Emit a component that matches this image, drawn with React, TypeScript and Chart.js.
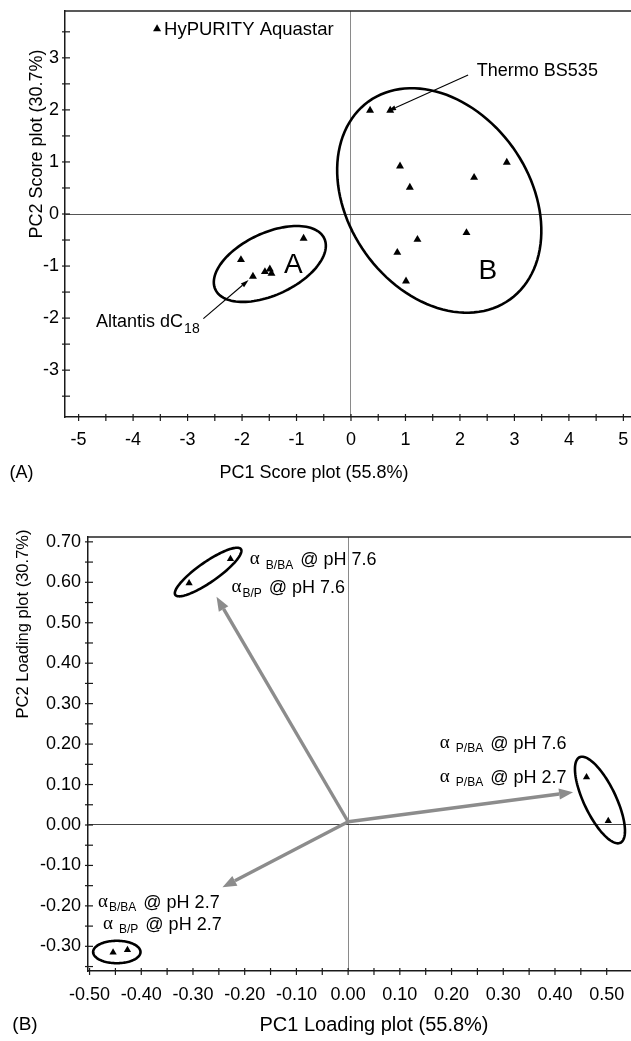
import React, { useEffect, useRef } from 'react';
import { Chart, registerables } from 'chart.js';
Chart.register(...registerables);

const SANS = '"Liberation Sans", Arial, sans-serif';
const SERIF = '"Liberation Serif", "Times New Roman", serif';

// ---------- (A) score plot data ----------
const scoreSeriesLabel = 'HyPURITY Aquastar';
const scorePC1 = [-0.87, -2.02, -1.80, -1.58, -1.49, -1.46, 0.35, 0.72, 0.90, 1.08, 2.26, 2.86, 1.22, 2.12, 0.85, 1.01];
const scorePC2 = [-0.47, -0.88, -1.20, -1.11, -1.06, -1.14, 1.99, 1.99, 0.92, 0.51, 0.70, 0.99, -0.49, -0.36, -0.74, -1.29];
const scoreXMajor = [-5, -4, -3, -2, -1, 0, 1, 2, 3, 4, 5];
const scoreYMajor = [-3, -2, -1, 0, 1, 2, 3];
const scoreRangeX = [-5.25, 5.14];
const scoreRangeY = [-3.9, 3.9];
// ellipses: centre + two half-axis vectors (data units)
const scoreEllipses = [
  { cx: -1.49, cy: -0.96, ux: 1.0, uy: 0.49, vx: 0.24, vy: -0.54 },
  { cx: 1.62, cy: 0.26, ux: 1.30, uy: -1.90, vx: 1.35, vy: 1.02 },
];
const scoreGroupLabels = [
  { text: 'A', x: -1.06, y: -0.98 },
  { text: 'B', x: 2.51, y: -1.11 },
];
const scoreCallouts = [
  { text: 'Thermo BS535', sub: '', tx: 2.31, ty: 2.74, x1: 2.15, y1: 2.67, x2: 0.68, y2: 1.98 },
  { text: 'Altantis dC', sub: '18', tx: -4.68, ty: -2.07, x1: -2.71, y1: -2.01, x2: -1.88, y2: -1.27 },
];
const scoreLegendPos = { x: -3.56, y: 3.56 };

// ---------- (B) loading plot data ----------
const loadPC1 = [-0.3075, -0.2275, 0.461, 0.503, -0.4545, -0.4267];
const loadPC2 = [0.598, 0.658, 0.118, 0.010, -0.315, -0.309];
const loadXMajor = [-0.5, -0.4, -0.3, -0.2, -0.1, 0, 0.1, 0.2, 0.3, 0.4, 0.5];
const loadYMajor = [-0.3, -0.2, -0.1, 0, 0.1, 0.2, 0.3, 0.4, 0.5, 0.6, 0.7];
const loadRangeX = [-0.503, 0.547];
const loadRangeY = [-0.361, 0.712];
const loadArrowOrigin = { x: 0, y: 0.008 };
const loadArrowTips = [
  { x: -0.2545, y: 0.564 },
  { x: 0.435, y: 0.081 },
  { x: -0.243, y: -0.154 },
];
const loadEllipses = [
  { cx: -0.2707, cy: 0.6254, ux: 0.0634, uy: 0.0566, vx: 0.0111, vy: -0.0202 },
  { cx: 0.487, cy: 0.0617, ux: 0.0395, uy: -0.1057, vx: 0.0279, vy: 0.0170 },
  { cx: -0.4473, cy: -0.314, ux: 0.0458, uy: 0, vx: 0, vy: 0.0277 },
];
const loadLabels = [
  { x: -0.190, y: 0.654, sub: 'B/BA', ph: '7.6', gap: true },
  { x: -0.2255, y: 0.585, sub: 'B/P', ph: '7.6', gap: false },
  { x: 0.1774, y: 0.200, sub: 'P/BA', ph: '7.6', gap: true },
  { x: 0.1774, y: 0.116, sub: 'P/BA', ph: '2.7', gap: true },
  { x: -0.4836, y: -0.193, sub: 'B/BA', ph: '2.7', gap: false },
  { x: -0.4739, y: -0.247, sub: 'B/P', ph: '2.7', gap: true },
];

// ---------- helpers ----------
function buildTicks(major: number[], min: number, max: number) {
  const step = (major[1] - major[0]) / 2;
  const out: number[] = [];
  const n0 = Math.ceil((min - 1e-9) / step);
  const n1 = Math.floor((max + 1e-9) / step);
  for (let k = n0; k <= n1; k++) out.push(+(k * step).toFixed(6));
  return out;
}
const isMajor = (v: number, major: number[]) => major.some((m) => Math.abs(m - v) < 1e-9);

function makeAxis(horizontal: boolean, range: number[], major: number[], fmt: (v: number) => string,
  fit: number, padding: number, zeroColor: string) {
  return {
    type: 'linear',
    min: range[0],
    max: range[1],
    afterBuildTicks: (s: any) => { s.ticks = buildTicks(major, range[0], range[1]).map((v) => ({ value: v })); },
    afterFit: (s: any) => {
      if (horizontal) s.height = fit; else s.width = fit;
      s.paddingTop = 0; s.paddingBottom = 0; s.paddingLeft = 0; s.paddingRight = 0;
    },
    ticks: {
      autoSkip: false, maxRotation: 0, minRotation: 0, padding, color: '#000',
      font: { family: SANS, size: 18 },
      callback: (v: any) => (isMajor(Number(v), major) ? fmt(Number(v)) : ''),
    },
    grid: {
      drawTicks: false, drawOnChartArea: true, lineWidth: 1,
      color: (c: any) => (c.tick && Math.abs(c.tick.value) < 1e-9 ? zeroColor : 'rgba(0,0,0,0)'),
    },
    border: { display: true, color: '#1a1a1a', width: 1.5 },
  };
}

function drawFrameAndTicks(chart: any) {
  const { ctx, chartArea: ca, scales } = chart;
  ctx.save();
  ctx.strokeStyle = '#222';
  ctx.lineWidth = 1.3;
  ctx.beginPath(); ctx.moveTo(ca.left, ca.top); ctx.lineTo(ca.right, ca.top); ctx.stroke();
  ctx.lineWidth = 1.2;
  ctx.strokeStyle = '#1a1a1a';
  for (const t of scales.x.ticks) {
    const p = scales.x.getPixelForValue(t.value);
    ctx.beginPath(); ctx.moveTo(p, ca.bottom - 3); ctx.lineTo(p, ca.bottom + 4); ctx.stroke();
  }
  for (const t of scales.y.ticks) {
    const p = scales.y.getPixelForValue(t.value);
    ctx.beginPath(); ctx.moveTo(ca.left - 3, p); ctx.lineTo(ca.left + 5, p); ctx.stroke();
  }
  ctx.restore();
}

function drawEllipse(chart: any, e: any, lw: number) {
  const { ctx, scales: { x, y } } = chart;
  ctx.save();
  ctx.strokeStyle = '#000';
  ctx.lineWidth = lw;
  ctx.beginPath();
  for (let i = 0; i <= 120; i++) {
    const t = (i / 120) * Math.PI * 2;
    const dx = e.cx + e.ux * Math.cos(t) + e.vx * Math.sin(t);
    const dy = e.cy + e.uy * Math.cos(t) + e.vy * Math.sin(t);
    const px = x.getPixelForValue(dx), py = y.getPixelForValue(dy);
    if (i === 0) ctx.moveTo(px, py); else ctx.lineTo(px, py);
  }
  ctx.closePath();
  ctx.stroke();
  ctx.restore();
}

function drawArrow(ctx: CanvasRenderingContext2D, x1: number, y1: number, x2: number, y2: number,
  color: string, lw: number, hl: number, hw: number) {
  const a = Math.atan2(y2 - y1, x2 - x1);
  const bx = x2 - hl * Math.cos(a), by = y2 - hl * Math.sin(a);
  ctx.save();
  ctx.strokeStyle = color; ctx.fillStyle = color; ctx.lineWidth = lw;
  ctx.beginPath(); ctx.moveTo(x1, y1); ctx.lineTo(bx, by); ctx.stroke();
  ctx.beginPath();
  ctx.moveTo(x2, y2);
  ctx.lineTo(bx + (hw / 2) * Math.sin(a), by - (hw / 2) * Math.cos(a));
  ctx.lineTo(bx - (hw / 2) * Math.sin(a), by + (hw / 2) * Math.cos(a));
  ctx.closePath(); ctx.fill();
  ctx.restore();
}

function txt(ctx: CanvasRenderingContext2D, s: string, x: number, y: number, font: string,
  align: CanvasTextAlign = 'left', rot = 0) {
  ctx.save();
  ctx.font = font; ctx.fillStyle = '#000'; ctx.textAlign = align; ctx.textBaseline = 'middle';
  ctx.translate(x, y); ctx.rotate(rot); ctx.fillText(s, 0, 0);
  ctx.restore();
}

// ---------- plugins ----------
const scorePlugin = {
  id: 'scoreDecor',
  afterDatasetsDraw(chart: any) {
    const { ctx, scales: { x, y } } = chart;
    drawFrameAndTicks(chart);
    scoreEllipses.forEach((e) => drawEllipse(chart, e, 2.6));
    scoreGroupLabels.forEach((g) => txt(ctx, g.text, x.getPixelForValue(g.x), y.getPixelForValue(g.y), `28px ${SANS}`, 'center'));
    scoreCallouts.forEach((c) => {
      drawArrow(ctx, x.getPixelForValue(c.x1), y.getPixelForValue(c.y1), x.getPixelForValue(c.x2), y.getPixelForValue(c.y2), '#000', 1.1, 8, 5);
      const tx = x.getPixelForValue(c.tx), ty = y.getPixelForValue(c.ty);
      txt(ctx, c.text, tx, ty, `18px ${SANS}`);
      if (c.sub) {
        ctx.save(); ctx.font = `18px ${SANS}`; const w = ctx.measureText(c.text).width; ctx.restore();
        txt(ctx, c.sub, tx + w + 1, ty + 7, `14px ${SANS}`);
      }
    });
    // in-plot legend
    const lx = x.getPixelForValue(scoreLegendPos.x), ly = y.getPixelForValue(scoreLegendPos.y);
    ctx.save(); ctx.fillStyle = '#000'; ctx.beginPath();
    ctx.moveTo(lx, ly - 4.5); ctx.lineTo(lx + 4, ly + 2.5); ctx.lineTo(lx - 4, ly + 2.5); ctx.closePath(); ctx.fill(); ctx.restore();
    txt(ctx, chart.data.datasets[0].label, lx + 7, ly + 1, `18.5px ${SANS}`);
  },
  afterDraw(chart: any) {
    const { ctx } = chart;
    txt(ctx, 'PC1 Score plot (55.8%)', 314, 473, `18px ${SANS}`, 'center');
    txt(ctx, '(A)', 21.5, 473, `18px ${SANS}`, 'center');
    txt(ctx, 'PC2 Score plot (30.7%)', 37, 144, `18px ${SANS}`, 'center', -Math.PI / 2);
  },
};

const loadPlugin = {
  id: 'loadDecor',
  beforeDatasetsDraw(chart: any) {
    const { ctx, scales: { x, y } } = chart;
    const ox = x.getPixelForValue(loadArrowOrigin.x), oy = y.getPixelForValue(loadArrowOrigin.y);
    loadArrowTips.forEach((t) => drawArrow(ctx, ox, oy, x.getPixelForValue(t.x), y.getPixelForValue(t.y), '#8c8c8c', 3.4, 14, 11));
  },
  afterDatasetsDraw(chart: any) {
    const { ctx, scales: { x, y } } = chart;
    drawFrameAndTicks(chart);
    loadEllipses.forEach((e) => drawEllipse(chart, e, 2.6));
    loadLabels.forEach((l) => {
      const px = x.getPixelForValue(l.x), py = y.getPixelForValue(l.y);
      ctx.save();
      ctx.font = `19px ${SERIF}`; const wa = ctx.measureText('α').width;
      ctx.font = `12px ${SANS}`; const ws = ctx.measureText(l.sub).width;
      ctx.restore();
      txt(ctx, 'α', px, py - 1, `19px ${SERIF}`);
      const sx = px + wa + (l.gap ? 6 : 1);
      txt(ctx, l.sub, sx, py + 5, `12px ${SANS}`);
      txt(ctx, '@ pH ' + l.ph, sx + ws + 7, py, `18px ${SANS}`);
    });
  },
  afterDraw(chart: any) {
    const { ctx } = chart;
    txt(ctx, 'PC1 Loading plot (55.8%)', 374, 535, `20px ${SANS}`, 'center');
    txt(ctx, '(B)', 25, 535, `19px ${SANS}`, 'center');
    txt(ctx, 'PC2 Loading plot (30.7%)', 23.5, 134, `16.5px ${SANS}`, 'center', -Math.PI / 2);
  },
};

function scatterDataset(label: string, xs: number[], ys: number[], r: number) {
  return {
    label,
    data: xs.map((v, i) => ({ x: v, y: ys[i] })),
    pointStyle: 'triangle',
    pointRadius: r,
    backgroundColor: '#000',
    borderColor: '#000',
    borderWidth: 0,
    showLine: false,
  };
}

export default function App() {
  const refA = useRef<HTMLCanvasElement>(null);
  const refB = useRef<HTMLCanvasElement>(null);

  useEffect(() => {
    Chart.defaults.font.family = SANS;
    const a = new Chart(refA.current as HTMLCanvasElement, {
      type: 'scatter',
      data: { datasets: [scatterDataset(scoreSeriesLabel, scorePC1, scorePC2, 4.6) as any] },
      options: {
        responsive: false, animation: false, devicePixelRatio: 1,
        layout: { autoPadding: false, padding: { top: 11, right: 0, bottom: 0, left: 0 } },
        plugins: { legend: { display: false }, tooltip: { enabled: false } },
        scales: {
          x: makeAxis(true, scoreRangeX, scoreXMajor, (v) => String(v), 73, 12, '#8a8a8a') as any,
          y: makeAxis(false, scoreRangeY, scoreYMajor, (v) => String(v), 65, 6, '#555') as any,
        },
      },
      plugins: [scorePlugin as any],
    });
    const b = new Chart(refB.current as HTMLCanvasElement, {
      type: 'scatter',
      data: { datasets: [scatterDataset('Loadings', loadPC1, loadPC2, 4.2) as any] },
      options: {
        responsive: false, animation: false, devicePixelRatio: 1,
        layout: { autoPadding: false, padding: { top: 47, right: 0, bottom: 0, left: 0 } },
        plugins: { legend: { display: false }, tooltip: { enabled: false } },
        scales: {
          x: makeAxis(true, loadRangeX, loadXMajor, (v) => (Math.round(v * 100) / 100).toFixed(2), 70, 13.5, '#8a8a8a') as any,
          y: makeAxis(false, loadRangeY, loadYMajor, (v) => (Math.round(v * 100) / 100).toFixed(2), 88, 7, '#444') as any,
        },
      },
      plugins: [loadPlugin as any],
    });
    return () => { a.destroy(); b.destroy(); };
  }, []);

  return (
    <div style={{ position: 'absolute', left: 0, top: 0, width: 631, height: 1041, background: '#fff' }}>
      <canvas ref={refA} width={631} height={490} style={{ position: 'absolute', left: 0, top: 0 }} />
      <canvas ref={refB} width={631} height={551} style={{ position: 'absolute', left: 0, top: 490 }} />
    </div>
  );
}
